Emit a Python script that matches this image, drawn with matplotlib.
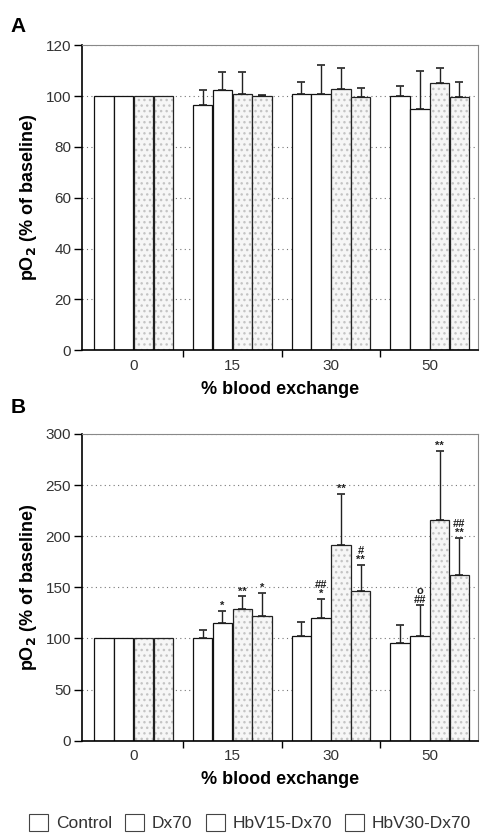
import numpy as np
import matplotlib
matplotlib.use("Agg")
import matplotlib.pyplot as plt

plt.rcParams['font.family'] = ['Liberation Sans', 'DejaVu Sans']

exchange = ['0', '15', '30', '50']
groups = ['Control', 'Dx70', 'HbV15-Dx70', 'HbV30-Dx70']

# Panel A: pO2 arterial (% of baseline), mean and upper SD
a_mean = {
    'Control':    [100, 96.5, 100.7, 100.1],
    'Dx70':       [100, 102.4, 100.7, 94.7],
    'HbV15-Dx70': [100, 100.7, 102.6, 105.0],
    'HbV30-Dx70': [100, 100.0, 99.5, 99.7],
}
a_err = {
    'Control':    [0, 5.9, 4.7, 3.9],
    'Dx70':       [0, 7.2, 11.6, 15.3],
    'HbV15-Dx70': [0, 8.9, 8.6, 6.2],
    'HbV30-Dx70': [0, 0.5, 3.5, 6.0],
}

# Panel B: pO2 tissue (% of baseline)
b_mean = {
    'Control':    [100, 100.5, 102.0, 95.4],
    'Dx70':       [100, 115.0, 120.0, 102.0],
    'HbV15-Dx70': [100, 129.0, 191.7, 215.5],
    'HbV30-Dx70': [100, 122.0, 146.6, 162.0],
}
b_err = {
    'Control':    [0, 8.0, 14.5, 17.9],
    'Dx70':       [0, 12.0, 19.0, 30.6],
    'HbV15-Dx70': [0, 12.0, 49.6, 67.5],
    'HbV30-Dx70': [0, 22.5, 25.4, 36.0],
}

# significance marks in panel B: (exchange index, group, label bottom->top)
b_marks = [
    (1, 'Dx70', '*'),
    (1, 'HbV15-Dx70', '**'),
    (1, 'HbV30-Dx70', '*'),
    (2, 'Dx70', '##\n*'),
    (2, 'HbV15-Dx70', '**'),
    (2, 'HbV30-Dx70', '#\n**'),
    (3, 'Dx70', 'o\n##'),
    (3, 'HbV15-Dx70', '**'),
    (3, 'HbV30-Dx70', '##\n**'),
]

width = 0.196
offsets = [-0.3, -0.1, 0.1, 0.3]
dotted = {'Control': False, 'Dx70': False, 'HbV15-Dx70': True, 'HbV30-Dx70': True}
x = np.arange(len(exchange))


def draw_panel(ax, means, errs, ymax, ystep):
    ax.set_axisbelow(True)
    ax.yaxis.grid(True, linestyle=(0, (1, 3)), color='#777777', linewidth=0.8)
    for i, g in enumerate(groups):
        xs = x + offsets[i]
        m = np.array(means[g])
        e = np.array(errs[g])
        if dotted[g]:
            ax.bar(xs, m, width, color='#f6f6f6', edgecolor='#c4c4c4', hatch='...', linewidth=0)
            ax.bar(xs, m, width, fill=False, edgecolor='#222222', linewidth=0.9)
        else:
            ax.bar(xs, m, width, color='white', edgecolor='#111111', linewidth=0.9)
        has = e > 0
        ax.errorbar(xs[has], m[has], yerr=[np.zeros(has.sum()), e[has]], fmt='none',
                    ecolor='#222222', elinewidth=1.0, capsize=3, capthick=1.2)
    ax.set_xlim(-0.52, 3.49)
    ax.set_ylim(0, ymax)
    ax.set_yticks(np.arange(0, ymax + 1, ystep))
    ax.set_xticks(x)
    ax.set_xticklabels(exchange)
    ax.set_xticks([0.5, 1.5, 2.5], minor=True)
    ax.tick_params(axis='x', which='major', length=0, labelsize=11, colors='#333333', pad=6)
    ax.tick_params(axis='x', which='minor', length=5, width=1, direction='out')
    ax.tick_params(axis='y', length=6, width=1, labelsize=11, colors='#333333', pad=2)
    ax.tick_params(axis='y', color='black')
    for s in ['top', 'right']:
        ax.spines[s].set_color('#888888')
        ax.spines[s].set_linewidth(0.8)
    for s in ['left', 'bottom']:
        ax.spines[s].set_linewidth(1.2)
    ax.set_xlabel('% blood exchange', fontsize=13, fontweight='bold', labelpad=6)
    ax.set_ylabel('pO$_\\mathbf{2}$ (% of baseline)', fontsize=13, fontweight='bold', labelpad=5)


fig = plt.figure(figsize=(4.81, 8.36), dpi=100)
ax_a = fig.add_axes([0.171, 0.581, 0.823, 0.365])
ax_b = fig.add_axes([0.171, 0.114, 0.823, 0.367])

draw_panel(ax_a, a_mean, a_err, 120, 20)
draw_panel(ax_b, b_mean, b_err, 300, 50)

for gi, g, lab in b_marks:
    i = groups.index(g)
    top = b_mean[g][gi] + b_err[g][gi]
    ax_b.annotate(lab, (x[gi] + offsets[i], top), xytext=(0, 0), textcoords='offset points',
                  ha='center', va='bottom', fontsize=8, fontweight='bold',
                  linespacing=0.85, color='#222222')

fig.text(0.022, 0.968, 'A', fontsize=15, fontweight='bold', va='center')
fig.text(0.022, 0.513, 'B', fontsize=15, fontweight='bold', va='center')

handles = [plt.Rectangle((0, 0), 1, 1, facecolor='white', edgecolor='#444444', linewidth=0.8)
           for _ in groups]
fig.legend(handles, groups, loc='center', bbox_to_anchor=(0.52, 0.016), ncol=4,
           frameon=False, fontsize=12.5, handlelength=1.1, handleheight=1.1,
           handletextpad=0.45, columnspacing=0.75, labelcolor='#333333')

fig.savefig('out.png', dpi=100)
